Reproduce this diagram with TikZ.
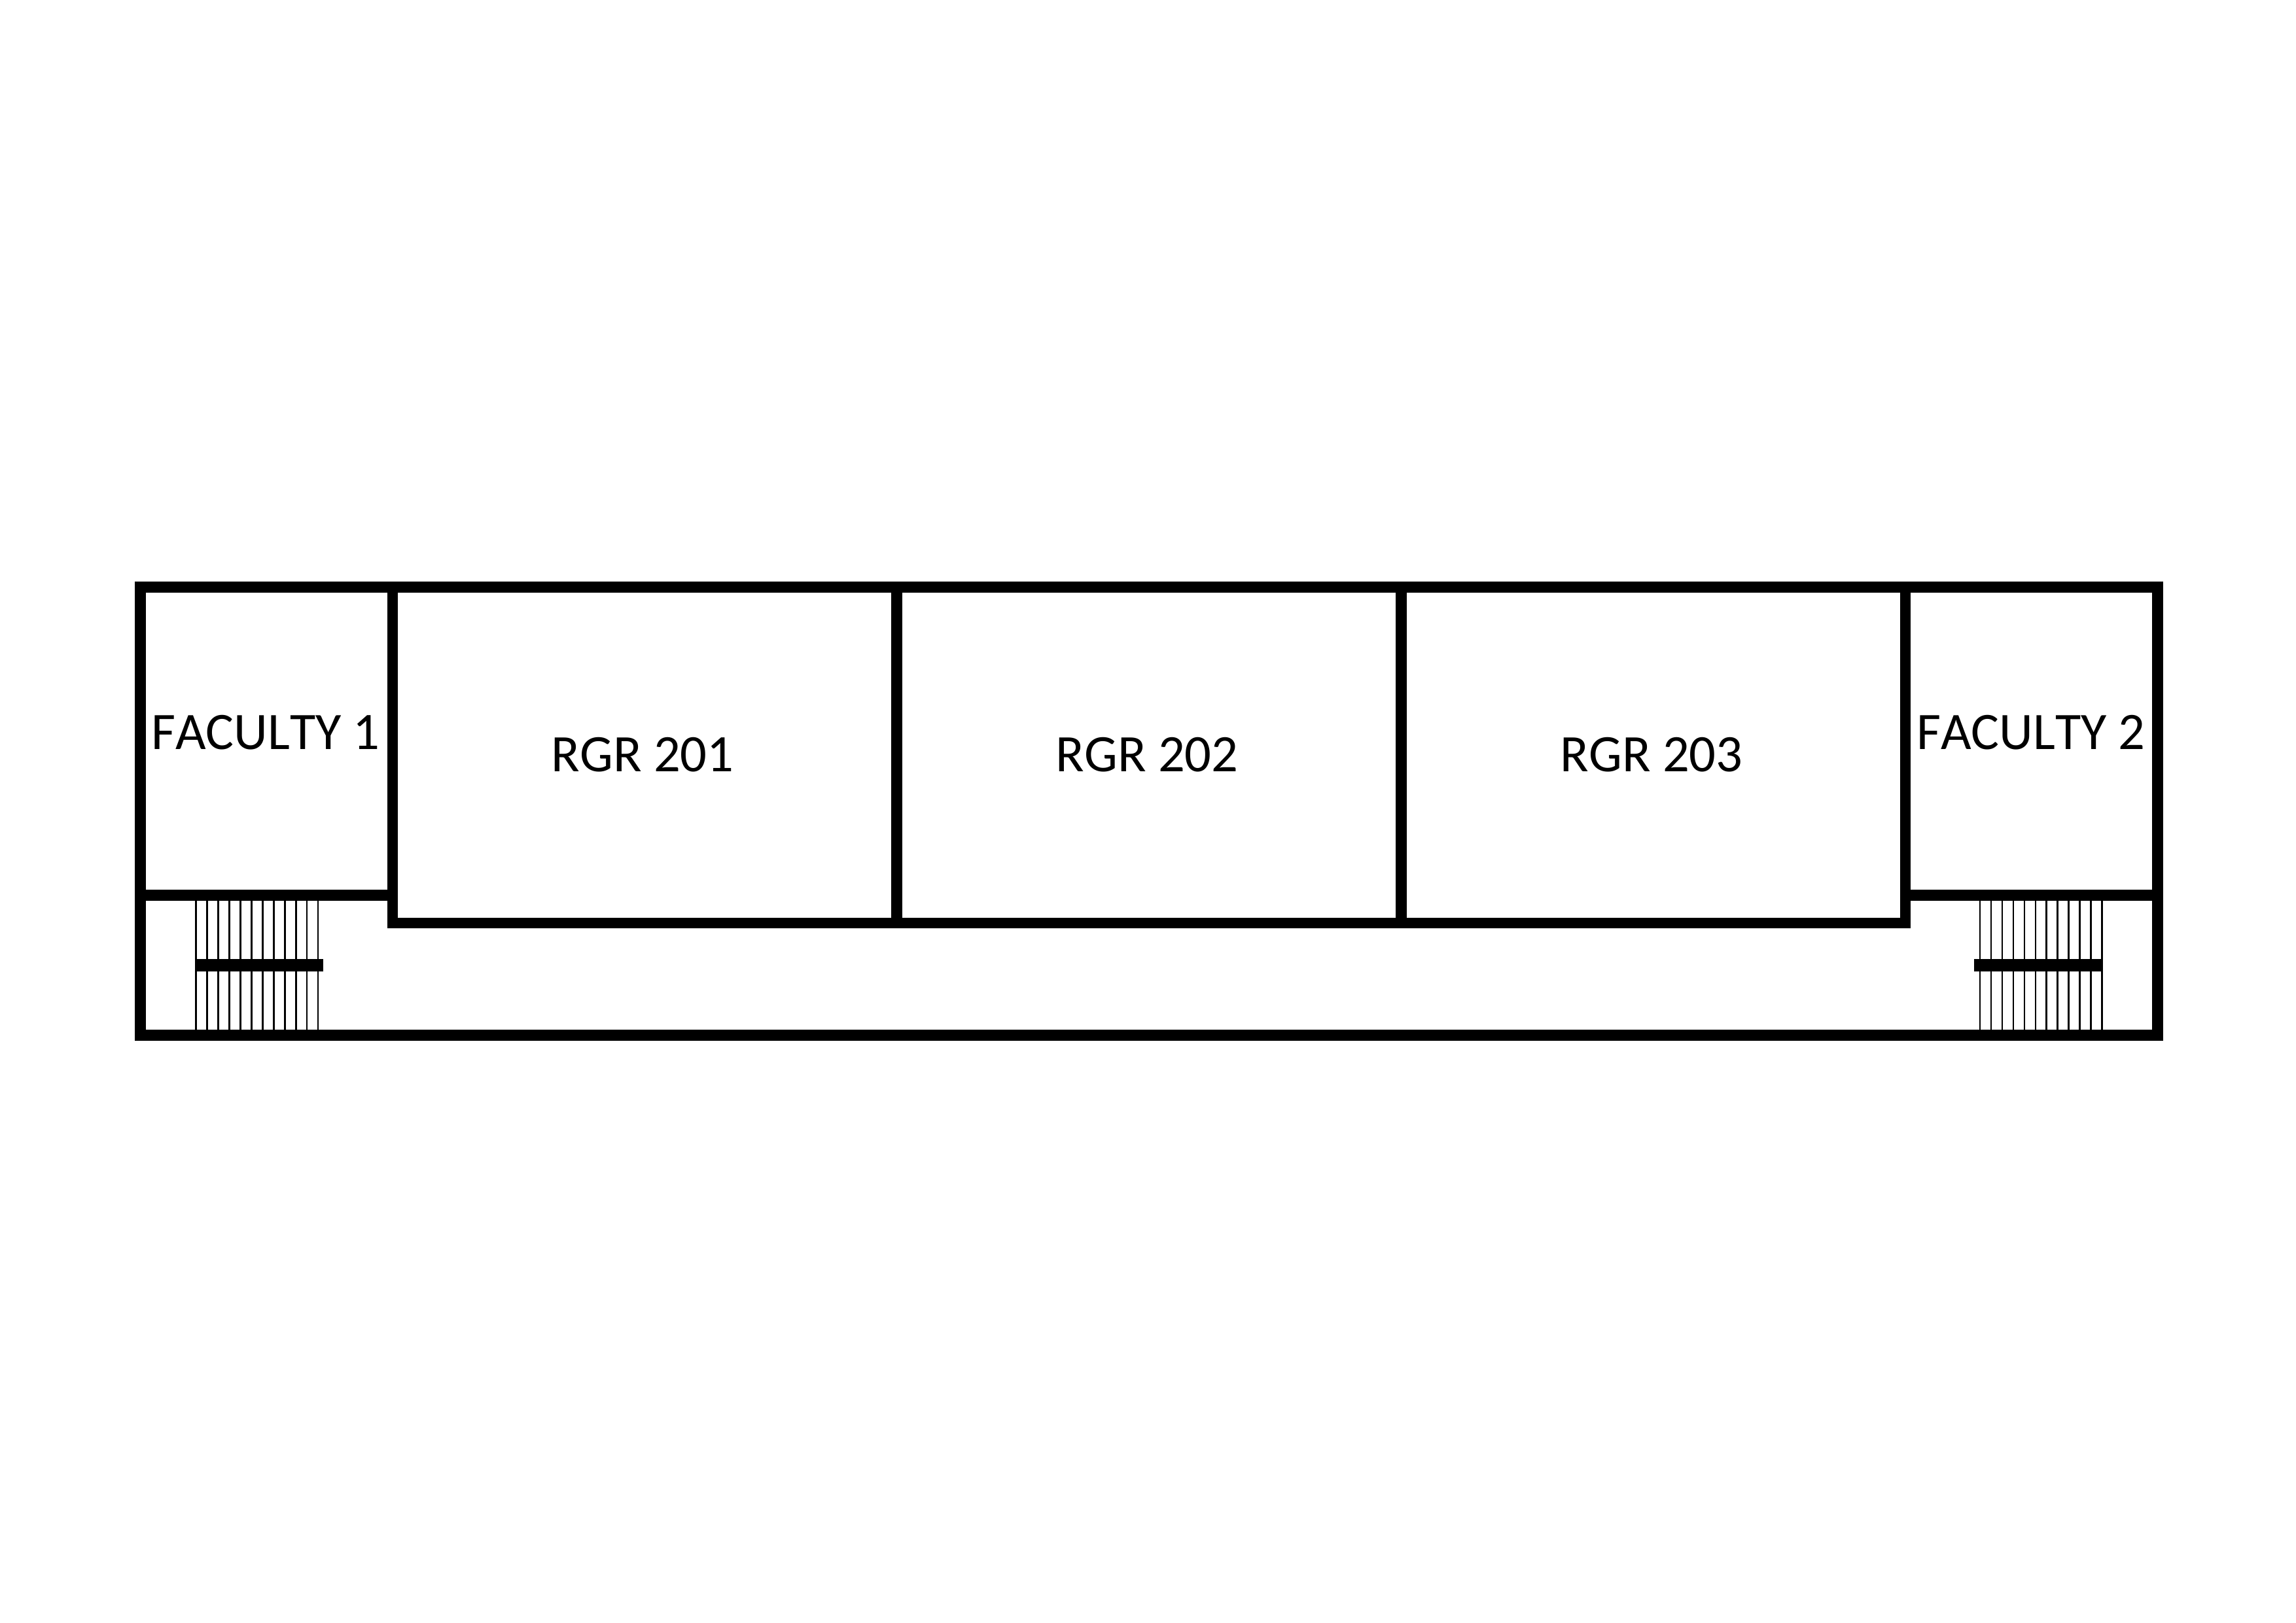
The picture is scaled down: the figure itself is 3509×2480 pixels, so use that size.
\documentclass[tikz,border=0pt]{standalone}
\usepackage{fontspec}
\setmainfont{Carlito}[Kerning=Off]
\begin{document}
\begin{tikzpicture}[x=0.01cm,y=-0.01cm,line join=miter,font=\fontsize{22.9}{27}\selectfont]
	\tikzset{wall/.style={line width=0.165cm},
		tread/.style={line width=0.025cm},
		landing/.style={line width=0.196cm},
		room/.style={anchor=base,inner sep=0pt}}
	\useasboundingbox (0,0) rectangle (3509,2480);
	\def\xl{214.5} \def\xr{3297.5} \def\yt{897.5} \def\yb{1582.5}
	\def\xa{600} \def\xd{2912} \def\yf{1368.5} \def\yr{1411}
	
	\draw[wall] (\xl,\yt) rectangle (\xr,\yb);
	\draw[wall] (\xa,\yt)--(\xa,\yr)--(\xd,\yr)--(\xd,\yt);
	\draw[wall] (1370.7,\yt)--(1370.7,\yr) (2141.3,\yt)--(2141.3,\yr);
	\draw[wall] (\xl,\yf)--(\xa,\yf) (\xd,\yf)--(\xr,\yf);
	
	\foreach \i in {0,...,11}{
		\draw[tread] ({299.7+16.95*\i},1377)--({299.7+16.95*\i},1574);
		\draw[tread] ({3026+16.95*\i},1377)--({3026+16.95*\i},1574);
	}
	\draw[landing] (298.7,1475.5)--(494,1475.5);
	\draw[landing] (3017.3,1475.5)--(3213.3,1475.5);
	
	\node[room] (fac1) at (406,1145.5) {FACULTY 1};
	\node[room] (rgr1) at (982,1179) {RGR 201};
	\node[room] (rgr2) at (1753,1179) {RGR 202};
	\node[room] (rgr3) at (2524,1179) {RGR 203};
	\node[room] (fac2) at (3104,1145.5) {FACULTY 2};
\end{tikzpicture}
\end{document}
